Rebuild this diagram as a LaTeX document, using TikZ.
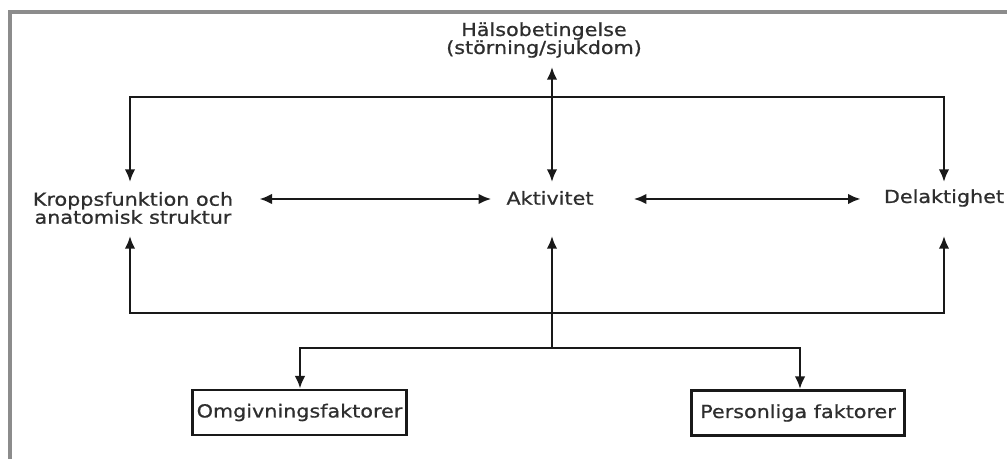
\documentclass[tikz,border=0pt]{standalone}
\usepackage{fontspec}
\setmainfont[FakeStretch=1.15,FakeBold=0.8]{DejaVu Sans}
\usetikzlibrary{arrows.meta,calc}
\begin{document}
\begin{tikzpicture}[x=0.75pt,y=-0.75pt,
  lbl/.style={font=\fontsize{13.5}{13.5}\selectfont, text=black!82, align=center, inner sep=0pt},
  box/.style={draw=black!90, line width=2.1pt, font=\fontsize{13.5}{13.5}\selectfont, text=black!82,
              minimum width=160pt, minimum height=33.75pt, inner sep=0pt},
  conn/.style={line width=1.9pt, draw=black!90},
  tip/.style={-{Latex[length=9.5pt,width=8pt]}},
  dbl/.style={{Latex[length=9.5pt,width=8pt]}-{Latex[length=9.5pt,width=8pt]}},
  frame/.style={line width=2.4pt, draw=black!45}
]
\useasboundingbox (0,0) rectangle (1007,459);
\draw[frame] (10,459) -- (10,12) -- (1007,12);

% nodes
\node[lbl] (h) at (544,40) {Hälsobetingelse\\(störning/sjukdom)};
\node[lbl] (k) at (133,208) {Kroppsfunktion och\\anatomisk struktur};
\node[lbl] (a) at (550,198) {Aktivitet};
\node[lbl] (d) at (944,198) {Delaktighet};
\node[box] (o) at (299.5,412.5) {Omgivningsfaktorer};
\node[box] (p) at (798,413) {Personliga faktorer};

% junctions
\coordinate (tl) at (130,97);
\coordinate (tr) at (944,97);
\coordinate (jt) at (552,97);
\coordinate (bl) at (130,313);
\coordinate (br) at (944,313);
\coordinate (split) at (552,348);
\coordinate (sl) at (300,348);
\coordinate (sr) at (800,348);
\coordinate (rowtop) at (0,182);
\coordinate (rowbot) at (0,236);

% top loop
\draw[conn,dbl] (tl |- rowtop) -- (tl) -- (tr) -- (tr |- rowtop);
\draw[conn,dbl] ($(h.south -| jt)+(0,9)$) -- (jt |- rowtop);

% middle arrows
\draw[conn,dbl] ($(k.east |- a.center)+(26,1)$) -- ($(a.west)+(-15,1)$);
\draw[conn,dbl] ($(a.east)+(40,1)$) -- ($(d.west)+(-23,1)$);

% bottom loop
\draw[conn,dbl] (bl |- rowbot) -- (bl) -- (br) -- (br |- rowbot);
\draw[conn,tip] (split) -- (split |- rowbot);

% factors
\draw[conn,dbl] (o.north -| sl) -- (sl) -- (sr) -- (p.north -| sr);
\end{tikzpicture}
\end{document}
